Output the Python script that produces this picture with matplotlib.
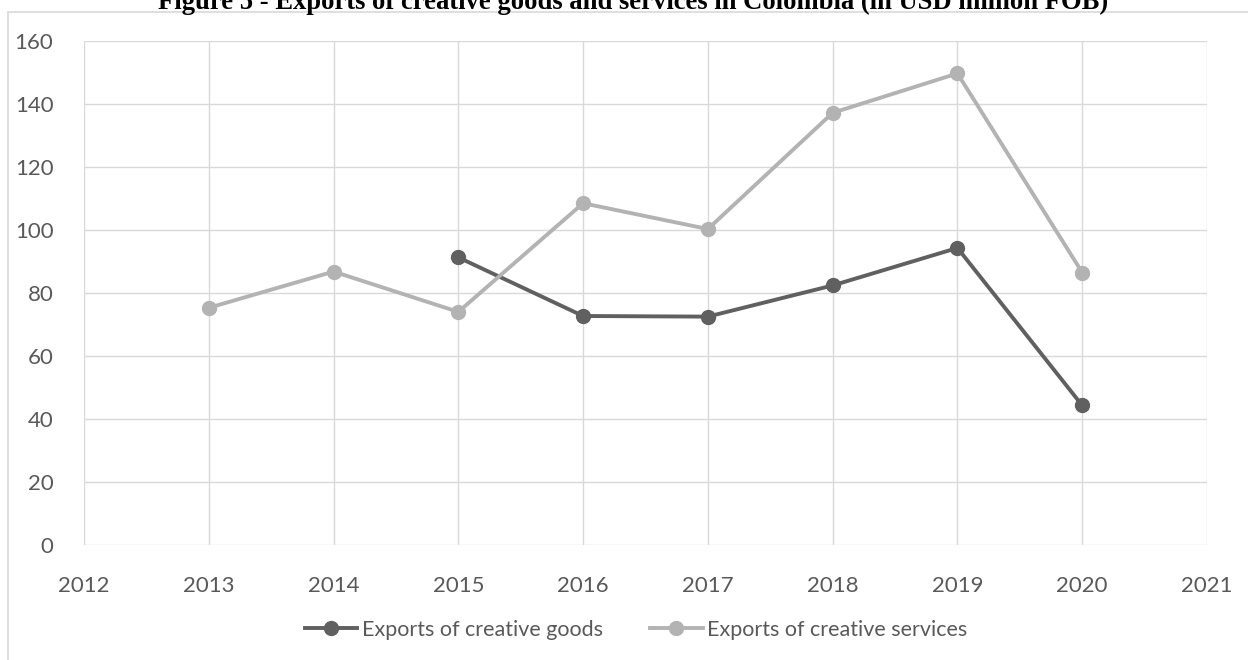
import matplotlib
matplotlib.use("Agg")
import matplotlib.pyplot as plt
from matplotlib.patches import Rectangle

years = [2013, 2014, 2015, 2016, 2017, 2018, 2019, 2020]
goods_years = [2015, 2016, 2017, 2018, 2019, 2020]
goods = [91.3, 72.7, 72.5, 82.4, 94.3, 44.3]
services = [75.3, 86.8, 74.0, 108.5, 100.3, 137.2, 149.7, 86.5]
xticks = list(range(2012, 2022))
yticks = list(range(0, 161, 20))
title = "Figure 5 - Exports of creative goods and services in Colombia (in USD million FOB)"
labels = ["Exports of creative goods", "Exports of creative services"]

W, H = 1248, 660
fig = plt.figure(figsize=(W / 100, H / 100), dpi=100)
fig.patch.set_facecolor("white")

# outer chart border (cropped page)
fig.patches.append(Rectangle((8 / W, -0.05), 1.2, (H - 12) / H + 0.05,
                             transform=fig.transFigure, fill=False,
                             edgecolor="#d9d9d9", linewidth=1.2))

ax = fig.add_axes([84 / W, (H - 545) / H, (1207 - 84) / W, (545 - 41) / H])
font = "Lato"
tc = "#595959"

ax.plot(goods_years, goods, color="#606060", linewidth=2.8, marker="o",
        markersize=10, label=labels[0], zorder=3)
ax.plot(years, services, color="#b3b3b3", linewidth=2.8, marker="o",
        markersize=10, label=labels[1], zorder=3)

ax.set_xlim(2012, 2021)
ax.set_ylim(0, 160)
ax.set_xticks(xticks)
ax.set_yticks(yticks)
ax.grid(True, color="#d9d9d9", linewidth=1.0)
ax.set_axisbelow(True)
for s in ax.spines.values():
    s.set_visible(False)
ax.tick_params(length=0, colors=tc, labelsize=16)
ax.tick_params(axis="y", pad=22)
ax.tick_params(axis="x", pad=22)
for lab in ax.get_xticklabels() + ax.get_yticklabels():
    lab.set_fontfamily(font)

leg = fig.legend(loc="center", bbox_to_anchor=(636 / W, 1 - 630 / H), ncol=2,
                 frameon=False, handlelength=2.45, handletextpad=0.2,
                 columnspacing=2.2, prop={"family": font, "size": 15.5})
for t in leg.get_texts():
    t.set_color(tc)

fig.text(633 / W, 1 - 9 / H, title, ha="center", va="baseline",
         fontfamily="Liberation Serif", fontweight="bold", fontsize=19.2)

fig.savefig("out.png", dpi=100)
